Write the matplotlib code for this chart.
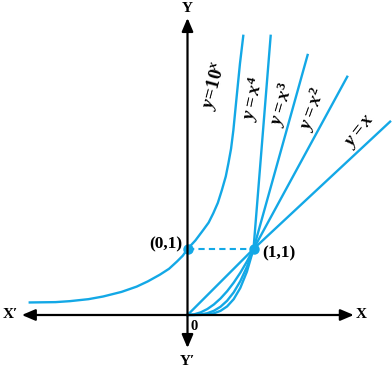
import matplotlib.pyplot as plt

plt.rcParams['mathtext.fontset'] = 'custom'
plt.rcParams['mathtext.rm'] = 'Liberation Serif:bold'
plt.rcParams['mathtext.it'] = 'Liberation Serif:italic:bold'
plt.rcParams['mathtext.bf'] = 'Liberation Serif:bold'

BLUE = '#13a8e6'

# curves (data units, 1 unit = distance 0 -> 1)
exp_x = [-2.39, -2.0, -1.78, -1.5, -1.28, -1.0, -0.77, -0.6, -0.42, -0.28, -0.16, -0.07,
         0.0, 0.12, 0.24, 0.32, 0.39, 0.46, 0.52, 0.58, 0.62, 0.66, 0.695, 0.745, 0.795, 0.845]
exp_y = [0.19, 0.195, 0.21, 0.24, 0.28, 0.35, 0.43, 0.51, 0.61, 0.70, 0.81, 0.90,
         1.0, 1.13, 1.29, 1.40, 1.54, 1.70, 1.89, 2.10, 2.30, 2.52, 2.80, 3.31, 3.81, 4.23]

low_x = [0, 0.1, 0.2, 0.3, 0.4, 0.5, 0.6, 0.7, 0.8, 0.9, 1.0]
lin_y = [0, 0.1, 0.2, 0.3, 0.4, 0.5, 0.6, 0.7, 0.8, 0.9, 1.0]
sq_y = [0, 0.01, 0.04, 0.09, 0.16, 0.25, 0.36, 0.49, 0.64, 0.81, 1.0]
cub_y = [0, 0.001, 0.008, 0.027, 0.064, 0.125, 0.216, 0.343, 0.512, 0.729, 1.0]
qua_y = [0, 0.0001, 0.0016, 0.008, 0.026, 0.063, 0.13, 0.24, 0.41, 0.656, 1.0]

# upper ends of the straight parts
lin_top = (3.07, 2.93)
sq_top = (2.42, 3.61)
cub_top = (1.82, 3.94)
qua_top = (1.26, 4.23)

labels = [r'$y\!=\!10^{x}$', r'$y = x^{4}$', r'$y = x^{3}$', r'$y = x^{2}$', r'$y = x$']
label_pos = [(0.40, 3.47), (0.99, 3.28), (1.43, 3.20), (1.90, 3.12), (2.61, 2.78)]
label_rot = [75, 78, 74, 70, 52]

fig = plt.figure(figsize=(3.92, 3.69), dpi=100)
ax = fig.add_axes([0, 0, 1, 1])
ax.set_xlim(-187.5 / 66, (392 - 187.5) / 66)
ax.set_ylim(-(369 - 315) / 66, 315 / 66)
ax.axis('off')

# axes with arrow heads
arr = dict(arrowstyle='-|>,head_length=0.4,head_width=0.17', color='black',
           lw=1.6, mutation_scale=20, shrinkA=0, shrinkB=0)
for tip in [(-2.51, 0), (2.52, 0), (0, 4.50), (0, -0.50)]:
    ax.annotate('', xy=tip, xytext=(0, 0), arrowprops=arr)

tfont = dict(family='Liberation Serif', weight='bold')
ax.text(0, 4.64, 'Y', ha='center', va='center', fontsize=11, **tfont)
ax.text(0, -0.71, "Y\u2032", ha='center', va='center', fontsize=11, **tfont)
ax.text(-2.69, 0, "X\u2032", ha='center', va='center', fontsize=11, **tfont)
ax.text(2.63, 0, 'X', ha='center', va='center', fontsize=11, **tfont)
ax.text(0.10, -0.18, '0', ha='center', va='center', fontsize=10.5, **tfont)
ax.text(-0.08, 1.07, '(0,1)', ha='right', va='center', fontsize=12.5, **tfont)
ax.text(1.13, 0.93, '(1,1)', ha='left', va='center', fontsize=12.5, **tfont)

# curves
ax.plot(exp_x, exp_y, color=BLUE, lw=1.7)
for ys, top in [(lin_y, lin_top), (sq_y, sq_top), (cub_y, cub_top), (qua_y, qua_top)]:
    ax.plot(low_x + [top[0]], ys + [top[1]], color=BLUE, lw=1.7)

ax.plot([0, 1], [1, 1], color=BLUE, lw=1.5, ls=(0, (3, 2)))
ax.plot([0, 1], [1, 1], 'o', color=BLUE, ms=6.5)

for lab, pos, rot in zip(labels, label_pos, label_rot):
    ax.text(pos[0], pos[1], lab, rotation=rot, ha='center', va='center',
            fontsize=13.5, rotation_mode='anchor')

fig.savefig('out.png', dpi=100)
